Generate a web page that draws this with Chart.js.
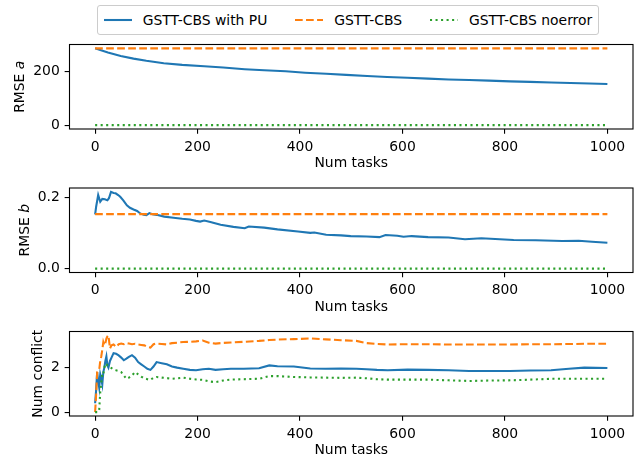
<!DOCTYPE html>
<html>
<head>
<meta charset="utf-8">
<script src="https://cdn.jsdelivr.net/npm/chart.js@4/dist/chart.umd.min.js"></script>
<style>
  body { margin: 0; background: #fff; }
  #fig { position: relative; width: 640px; height: 461px; overflow: hidden; font-family: 'DejaVu Sans', sans-serif; }
  .panel { position: absolute; left: 0; width: 640px; height: 134px; }
  #legend { position: absolute; left: 97px; top: 5px; height: 28px; display: flex; align-items: center;
            padding: 0 5.6px; border: 1px solid #ccc; border-radius: 3px; font-size: 13.9px; color: #000; white-space: nowrap; }
  .item { display: flex; align-items: center; }
  .item + .item { margin-left: 27.8px; }
  .item svg { margin-right: 11.1px; }
</style>
</head>
<body>
<div id="fig">
  <div id="legend"></div>
  <div class="panel" style="top:39px"><canvas id="c1"></canvas></div>
  <div class="panel" style="top:183px"><canvas id="c2"></canvas></div>
  <div class="panel" style="top:326px"><canvas id="c3"></canvas></div>
</div>
<script>
// series
const seriesNames = ['GSTT-CBS with PU', 'GSTT-CBS', 'GSTT-CBS noerror'];
const seriesColors = ['#1f77b4', '#ff7f0e', '#2ca02c'];
const seriesDash = [[], [7.7, 3.33], [2.08, 3.44]];

const taskTicks = [0, 200, 400, 600, 800, 1000];
const flatTasks = [0, 1000];

// RMSE a
const aTasks = [0, 10, 25, 50, 75, 100, 134, 170, 213, 250, 292, 330, 372, 410, 451, 490, 531, 570, 610, 650, 690, 730, 769, 810, 849, 890, 928, 965, 1000];
const aWithPu = [284, 278, 269, 256, 246, 238, 229, 223, 218, 213, 207, 203, 199, 194, 190, 186, 182, 178, 175, 172, 169, 167, 164.5, 162, 160, 158, 156, 154, 152];
const aCbs = [284, 284];
const aNoerror = [0, 0];
const aTicks = [0, 200];

// RMSE b
const bTasks = [0, 2, 6, 10, 14, 19, 24, 27, 31, 36, 40, 45, 49, 55, 62, 68, 75, 82, 88, 95,
  100, 106, 112, 120, 135, 153, 170, 185, 197, 205, 213, 225, 245, 270, 292, 300, 330, 356, 396, 420,
  428, 451, 480, 499, 530, 555, 567, 590, 602, 618, 650, 690, 722, 754, 790, 817, 860, 912, 944, 970, 1000];
const bWithPu = [0.153, 0.175, 0.208, 0.189, 0.197, 0.196, 0.193, 0.199, 0.217, 0.214, 0.213, 0.208, 0.203, 0.193, 0.179, 0.172, 0.167, 0.163, 0.156, 0.152,
  0.151, 0.157, 0.154, 0.152, 0.147, 0.144, 0.141, 0.139, 0.135, 0.133, 0.136, 0.132, 0.124, 0.118, 0.114, 0.119, 0.116, 0.111, 0.105, 0.101,
  0.102, 0.096, 0.094, 0.092, 0.091, 0.089, 0.095, 0.093, 0.090, 0.092, 0.089, 0.088, 0.083, 0.086, 0.083, 0.081, 0.080, 0.078, 0.079, 0.076, 0.073];
const bCbs = [0.154, 0.154];
const bNoerror = [0, 0];
const bTicks = [0, 0.2];

// Num conflict
const cTasks = [0, 2, 4, 6, 8, 10, 12, 14, 16, 18, 20, 22, 24, 26, 29, 32, 36, 41, 46, 51,
  56, 61, 66, 72, 78, 84, 90, 96, 102, 108, 114, 120, 130, 140, 150, 160, 172, 185, 197, 210,
  222, 235, 250, 265, 290, 320, 340, 356, 388, 420, 450, 480, 510, 530, 550, 571, 610, 650, 690, 730,
  770, 810, 850, 890, 925, 955, 1000];
const cWithPu = [0.4, 1.0, 1.8, 1.4, 1.1, 1.7, 1.5, 1.25, 1.8, 2.0, 2.3, 2.5, 2.1, 2.0, 2.3, 2.45, 2.65, 2.62, 2.55, 2.45,
  2.33, 2.4, 2.48, 2.56, 2.45, 2.25, 2.15, 2.05, 1.95, 1.9, 2.05, 2.25, 2.2, 2.15, 2.05, 2.0, 1.95, 1.9, 1.88, 1.93,
  1.95, 1.9, 1.93, 1.95, 1.95, 1.97, 2.1, 2.06, 2.05, 1.96, 1.95, 1.96, 1.95, 1.93, 1.9, 1.88, 1.91, 1.9, 1.88, 1.85,
  1.85, 1.85, 1.87, 1.88, 1.95, 2.0, 1.98];
const cCbs = [0, 0.8, 1.8, 1.85, 1.9, 2.3, 2.5, 2.8, 3.15, 3.0, 3.1, 3.3, 3.4, 3.45, 2.86, 3.0, 3.04, 2.93, 3.05, 3.08,
  3.05, 3.1, 3.08, 3.05, 3.07, 3.04, 3.02, 3.0, 2.93, 2.9, 3.05, 3.08, 3.06, 3.04, 3.1, 3.12, 3.15, 3.16, 3.18, 3.22,
  3.12, 3.08, 3.11, 3.13, 3.16, 3.2, 3.24, 3.26, 3.28, 3.31, 3.27, 3.23, 3.2, 3.1, 3.06, 3.04, 3.05, 3.05, 3.04, 3.04,
  3.04, 3.04, 3.05, 3.05, 3.06, 3.07, 3.07];
const cNoerror = [0, 0, 0, 0, 0.1, 0.9, 1.3, 1.73, 1.7, 2.0, 2.18, 2.15, 2.1, 2.08, 2.03, 1.98, 1.92, 1.88, 1.85, 1.8,
  1.65, 1.5, 1.55, 1.65, 1.8, 1.7, 1.6, 1.52, 1.48, 1.45, 1.55, 1.58, 1.55, 1.53, 1.5, 1.52, 1.55, 1.5, 1.47, 1.45,
  1.38, 1.35, 1.42, 1.46, 1.48, 1.5, 1.62, 1.62, 1.58, 1.56, 1.55, 1.54, 1.55, 1.52, 1.48, 1.46, 1.46, 1.46, 1.43, 1.4,
  1.42, 1.43, 1.46, 1.5, 1.5, 1.5, 1.5];
const cTicks = [0, 2];

const FS = 13.9;
const LW = 2.08;
const TICK = 4.86;
const PANEL_H = 134;
const PLOT_H = 84.5;
Chart.defaults.font.family = "'DejaVu Sans'";
Chart.defaults.font.size = FS;
Chart.defaults.color = '#000';

// legend
const legend = document.getElementById('legend');
seriesNames.forEach((name, i) => {
  const item = document.createElement('div');
  item.className = 'item';
  item.innerHTML = `<svg width="28" height="10"><line x1="0" y1="5" x2="28" y2="5" stroke="${seriesColors[i]}"
    stroke-width="${LW}" stroke-dasharray="${seriesDash[i].join(' ') || 'none'}"/></svg><span>${name}</span>`;
  legend.appendChild(item);
});

// axes frame, drawn over the lines like matplotlib spines
const framePlugin = {
  id: 'frame',
  afterDraw(chart) {
    const {ctx, chartArea: a} = chart;
    ctx.save();
    ctx.strokeStyle = '#000';
    ctx.lineWidth = 1.1;
    ctx.strokeRect(a.left, a.top, a.right - a.left, a.bottom - a.top);
    ctx.restore();
  }
};

// y label with an italic part (mathtext)
const yLabelPlugin = {
  id: 'ylab',
  afterDraw(chart, args, opts) {
    const {ctx, chartArea: a} = chart;
    const parts = opts.parts;
    ctx.save();
    ctx.font = FS + "px 'DejaVu Sans'";
    let maxW = 0;
    chart.scales.y.ticks.forEach(t => { maxW = Math.max(maxW, ctx.measureText(t.label).width); });
    const right = a.left - 2 * TICK - maxW - 5.56;
    const fonts = parts.map(p => (p.italic ? 'italic ' : '') + FS + "px 'DejaVu Sans'");
    const widths = parts.map((p, i) => { ctx.font = fonts[i]; return ctx.measureText(p.text).width; });
    const total = widths.reduce((s, w) => s + w, 0);
    ctx.translate(right, (a.top + a.bottom) / 2);
    ctx.rotate(-Math.PI / 2);
    ctx.textBaseline = 'bottom';
    ctx.textAlign = 'left';
    ctx.fillStyle = '#000';
    let x = -total / 2;
    parts.forEach((p, i) => {
      ctx.font = fonts[i];
      ctx.fillText(p.text, x, 0);
      x += widths[i];
    });
    ctx.restore();
  }
};

function pts(xs, ys) {
  return xs.map((x, i) => ({x: x, y: ys[i]}));
}

function makePanel(id, padTop, yMin, yMax, yTicks, yFmt, yParts, lines) {
  const tickGrid = {display: true, drawOnChartArea: false, drawTicks: true, tickLength: TICK, color: '#000', lineWidth: 1.1};
  new Chart(document.getElementById(id), {
    type: 'line',
    data: {
      datasets: lines.map((l, i) => ({
        label: seriesNames[i],
        data: pts(l[0], l[1]),
        borderColor: seriesColors[i],
        borderDash: seriesDash[i],
        borderWidth: LW,
        borderCapStyle: 'butt',
        pointRadius: 0,
        tension: 0,
        fill: false,
        order: 3 - i
      }))
    },
    options: {
      animation: false,
      responsive: true,
      maintainAspectRatio: false,
      events: [],
      layout: {padding: {top: padTop, right: 7, left: 0, bottom: 0}},
      plugins: {legend: {display: false}, tooltip: {enabled: false}, ylab: {parts: yParts}},
      scales: {
        x: {
          type: 'linear', min: -50, max: 1050,
          afterBuildTicks: s => { s.ticks = taskTicks.map(v => ({value: v})); },
          afterFit: s => { s.height = PANEL_H - padTop - PLOT_H; s.paddingLeft = 0; s.paddingRight = 0; },
          grid: tickGrid,
          border: {display: false},
          ticks: {padding: TICK, maxRotation: 0, autoSkip: false, callback: v => String(v)},
          title: {display: true, text: 'Num tasks', padding: {top: 0, bottom: 1.5}}
        },
        y: {
          type: 'linear', min: yMin, max: yMax,
          afterBuildTicks: s => { s.ticks = yTicks.map(v => ({value: v})); },
          afterFit: s => { s.width = 69.5; s.paddingTop = 0; s.paddingBottom = 0; },
          grid: tickGrid,
          border: {display: false},
          ticks: {padding: TICK, callback: yFmt}
        }
      }
    },
    plugins: [framePlugin, yLabelPlugin]
  });
}

makePanel('c1', 5.5, -14.2, 298.2, aTicks, v => String(v),
  [{text: 'RMSE '}, {text: 'a', italic: true}],
  [[aTasks, aWithPu], [flatTasks, aCbs], [flatTasks, aNoerror]]);

makePanel('c2', 5, -0.0109, 0.2279, bTicks, v => v.toFixed(1),
  [{text: 'RMSE '}, {text: 'b', italic: true}],
  [[bTasks, bWithPu], [flatTasks, bCbs], [flatTasks, bNoerror]]);

makePanel('c3', 5.5, -0.1725, 3.6225, cTicks, v => String(v),
  [{text: 'Num conflict'}],
  [[cTasks, cWithPu], [cTasks, cCbs], [cTasks, cNoerror]]);
</script>
</body>
</html>
